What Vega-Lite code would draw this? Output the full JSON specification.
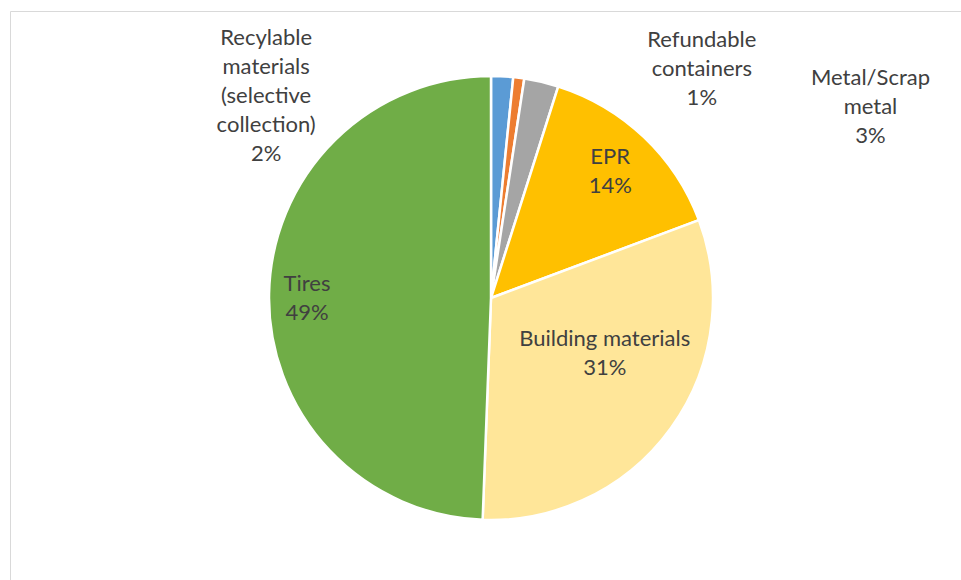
{
  "$schema": "https://vega.github.io/schema/vega-lite/v6.json",
  "width": 962,
  "height": 574,
  "autosize": {"type": "none"},
  "padding": {"left": 10, "top": 11, "right": 0, "bottom": 0},
  "background": "white",
  "view": {"stroke": "#d9d9d9", "strokeWidth": 1, "fill": "white"},
  "data": {
    "values": [
      {"category": "Recyclable materials (selective collection)", "label": "Recylable\nmaterials\n(selective\ncollection)\n2%", "value": 1.6, "order": 1},
      {"category": "Refundable containers", "label": "Refundable\ncontainers\n1%", "value": 0.8, "order": 2},
      {"category": "Metal/Scrap metal", "label": "Metal/Scrap\nmetal\n3%", "value": 2.5, "order": 3},
      {"category": "EPR", "label": "EPR\n14%", "value": 14.4, "order": 4},
      {"category": "Building materials", "label": "Building materials\n31%", "value": 31.3, "order": 5},
      {"category": "Tires", "label": "Tires\n49%", "value": 49.4, "order": 6}
    ]
  },
  "encoding": {
    "theta": {"field": "value", "type": "quantitative", "stack": true},
    "order": {"field": "order", "type": "quantitative"}
  },
  "layer": [
    {
      "mark": {"type": "arc", "radius": 222, "stroke": "white", "strokeWidth": 2.5},
      "encoding": {
        "color": {
          "field": "category", "type": "nominal", "legend": null,
          "scale": {
            "domain": ["Recyclable materials (selective collection)", "Refundable containers", "Metal/Scrap metal", "EPR", "Building materials", "Tires"],
            "range": ["#5B9BD5", "#ED7D31", "#A5A5A5", "#FFC000", "#FFE699", "#70AD47"]
          }
        }
      }
    },
    {
      "mark": {"type": "text", "radius": 173, "dy": -16, "lineBreak": "\n", "font": "Lato", "fontSize": 22, "lineHeight": 29, "fill": "#404040", "align": "center", "baseline": "middle"},
      "encoding": {"text": {"condition": {"test": "datum.category === 'EPR'", "field": "label"}, "value": ""}}
    },
    {
      "mark": {"type": "text", "radius": 123, "dx": 14, "dy": -31, "lineBreak": "\n", "font": "Lato", "fontSize": 22, "lineHeight": 29, "fill": "#404040", "align": "center", "baseline": "middle"},
      "encoding": {"text": {"condition": {"test": "datum.category === 'Building materials'", "field": "label"}, "value": ""}}
    },
    {
      "mark": {"type": "text", "radius": 184, "dy": -11, "lineBreak": "\n", "font": "Lato", "fontSize": 22, "lineHeight": 29, "fill": "#404040", "align": "center", "baseline": "middle"},
      "encoding": {"text": {"condition": {"test": "datum.category === 'Tires'", "field": "label"}, "value": ""}}
    },
    {
      "mark": {"type": "text", "radius": 222, "dx": -236, "dy": -38, "lineBreak": "\n", "font": "Lato", "fontSize": 22, "lineHeight": 29, "fill": "#404040", "align": "center", "baseline": "middle"},
      "encoding": {"text": {"condition": {"test": "datum.category === 'Recyclable materials (selective collection)'", "field": "label"}, "value": ""}}
    },
    {
      "mark": {"type": "text", "radius": 222, "dx": 183, "dy": -38, "lineBreak": "\n", "font": "Lato", "fontSize": 22, "lineHeight": 29, "fill": "#404040", "align": "center", "baseline": "middle"},
      "encoding": {"text": {"condition": {"test": "datum.category === 'Refundable containers'", "field": "label"}, "value": ""}}
    },
    {
      "mark": {"type": "text", "radius": 222, "dx": 329, "dy": -4, "lineBreak": "\n", "font": "Lato", "fontSize": 22, "lineHeight": 29, "fill": "#404040", "align": "center", "baseline": "middle"},
      "encoding": {"text": {"condition": {"test": "datum.category === 'Metal/Scrap metal'", "field": "label"}, "value": ""}}
    }
  ]
}
